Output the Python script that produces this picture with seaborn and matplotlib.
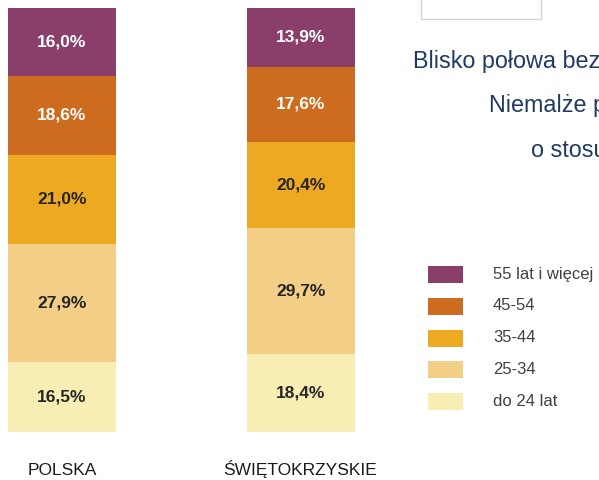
"""
Age structure of the unemployed: Polska vs. świętokrzyskie (stacked 100% bars).
"""
import matplotlib
matplotlib.use('Agg')
import matplotlib.pyplot as plt
from matplotlib.patches import Rectangle
import numpy as np
import pandas as pd
import seaborn as sns

regions = ['POLSKA', 'ŚWIĘTOKRZYSKIE']
# age groups from the bottom of the bar to the top
age_groups = ['do 24 lat', '25-34', '35-44', '45-54', '55 lat i więcej']
polska = [16.5, 27.9, 21.0, 18.6, 16.0]
swietokrzyskie = [18.4, 29.7, 20.4, 17.6, 13.9]
colors = ['#F8EDB3', '#F2CE86', '#EDA921', '#CD6B1E', '#8A3F6B']
label_colors = ['#262626', '#262626', '#262626', 'white', 'white']

title_lines = ['Blisko połowa bezrobotnych', 'Niemalże połowa', 'o stosunkowo']

sns.set_style('white')
plt.rcParams['font.family'] = ['Liberation Sans', 'DejaVu Sans']

df = pd.DataFrame({'region': np.repeat(regions, len(age_groups)),
                   'group': age_groups * len(regions),
                   'value': polska + swietokrzyskie})
df['top'] = df.groupby('region')['value'].cumsum()
df['mid'] = df['top'] - df['value'] / 2

fig = plt.figure(figsize=(5.99, 4.80), dpi=100)
ax = fig.add_axes([0, 0, 1, 1])

# draw cumulative bars from the tallest down so they stack visually
for i in range(len(age_groups) - 1, -1, -1):
    sub = df[df['group'] == age_groups[i]]
    sns.barplot(data=sub, x='region', y='top', order=regions, color=colors[i],
                width=0.45, errorbar=None, saturation=1, linewidth=0, ax=ax)

for _, row in df.iterrows():
    k = age_groups.index(row['group'])
    ax.text(regions.index(row['region']), row['mid'],
            f"{row['value']:.1f}%".replace('.', ','),
            ha='center', va='center', fontsize=12.5, fontweight='bold',
            color=label_colors[k])

ax.set_xlim(-0.259, 2.247)
ax.set_ylim(-11.32, 101.89)
ax.axis('off')

# overlay in pixel coordinates for legend, category names and side text
ov = fig.add_axes([0, 0, 1, 1])
ov.set_xlim(0, 599)
ov.set_ylim(480, 0)
ov.axis('off')
ov.patch.set_alpha(0)

for name, cx in zip(regions, [62, 300]):
    ov.text(cx, 475, name, ha='center', va='baseline', fontsize=12.5, color='#1a1a1a')

legend_y = [401, 369, 338, 306, 274]
for grp, col, y in zip(age_groups, colors, legend_y):
    ov.add_patch(Rectangle((428, y - 8.5), 35, 17, facecolor=col, edgecolor='none'))
    ov.text(493, y, grp, ha='left', va='center', fontsize=12, color='#404040')

ov.add_patch(Rectangle((421, -2), 120, 21, facecolor='white', edgecolor='#d4d4d4', linewidth=1))

for txt, x, y in zip(title_lines, [413, 489, 531], [68, 112, 157]):
    ov.text(x, y, txt, ha='left', va='baseline', fontsize=16.8, color='#1F3A63')

fig.savefig('out.png', dpi=100, facecolor='white')
